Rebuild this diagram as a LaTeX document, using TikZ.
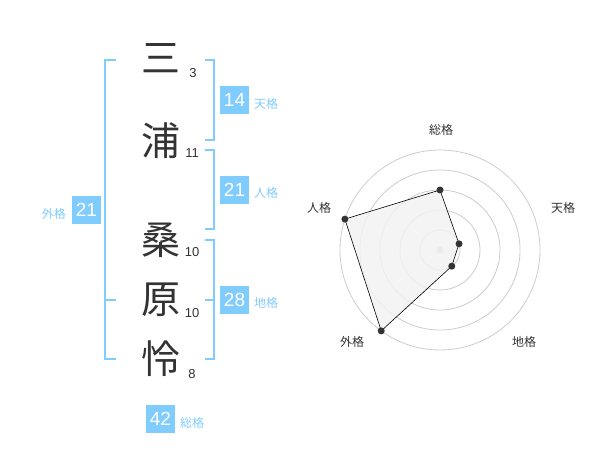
\documentclass[tikz,border=0pt]{standalone}
\usepackage{fontspec}
\usetikzlibrary{calc}
\setmainfont{Liberation Sans}
\newfontfamily\cjk{Noto Sans CJK JP}
\definecolor{kblue}{RGB}{128,204,255}
\definecolor{ktext}{RGB}{51,51,51}
\definecolor{kgrid}{RGB}{204,204,204}
\definecolor{kfill}{RGB}{242,242,242}
\begin{document}
\begin{tikzpicture}[x=1bp,y=-1bp,
  kanji/.style={font=\cjk\fontsize{39bp}{39bp}\selectfont, text=ktext, inner sep=0pt},
  stroke/.style={font=\fontsize{13bp}{13bp}\selectfont, text=ktext, inner sep=0pt},
  valbox/.style={fill=kblue, text=white, minimum width=29bp, minimum height=28bp, inner sep=0pt, font=\fontsize{19bp}{19bp}\selectfont},
  kaku/.style={font=\cjk\fontsize{12bp}{12bp}\selectfont, text=kblue, inner sep=0pt},
  brk/.style={draw=kblue, line width=1.6bp},
  ring/.style={draw=kgrid, line width=0.8bp},
  rlabel/.style={font=\cjk\fontsize{12bp}{12bp}\selectfont, text=ktext, inner sep=0pt},
  pt/.style={fill=ktext, circle, inner sep=0pt, minimum size=7bp}]
\useasboundingbox (0,0) rectangle (600,470);
% kanji
\node[kanji] (k1) at (161,58) {三};
\node[kanji] (k2) at (161,141) {浦};
\node[kanji] (k3) at (161,240) {桑};
\node[kanji] (k4) at (161,300) {原};
\node[kanji] (k5) at (161,359) {怜};
% stroke counts
\node[stroke] (s1) at (193,73) {3};
\node[stroke] (s2) at (192,153) {11};
\node[stroke] (s3) at (192,252) {10};
\node[stroke] (s4) at (192,313) {10};
\node[stroke] (s5) at (192,374) {8};
% brackets
\draw[brk] (116,60) -- (105,60) -- (105,359) -- (116,359);
\draw[brk] (105,300) -- (116,300);
\draw[brk] (205,60) -- (214,60) -- (214,140) -- (205,140);
\draw[brk] (205,150) -- (214,150) -- (214,229) -- (205,229);
\draw[brk] (205,240) -- (214,240) -- (214,359) -- (205,359);
\draw[brk] (205,300) -- (214,300);
% value boxes
\node[valbox] (ten) at (234.5,100) {14};
\node[kaku, anchor=west] (tenl) at (254,104) {天格};
\node[valbox] (jin) at (234.5,190) {21};
\node[kaku, anchor=west] (jinl) at (254,193) {人格};
\node[valbox] (chi) at (234.5,300) {28};
\node[kaku, anchor=west] (chil) at (254,303) {地格};
\node[valbox] (gai) at (86.5,210) {21};
\node[kaku, anchor=east] (gail) at (66,214) {外格};
\node[valbox] (sou) at (160.5,419) {42};
\node[kaku, anchor=west] (soul) at (180,423) {総格};
% radar
\coordinate (c) at (440,250);
\foreach \r in {20,40,60,80,100} \draw[ring] (c) circle[radius=\r];
\fill[kgrid] (c) circle[radius=3.5];
\coordinate (p1) at ($(c)+(-90:60)$);
\coordinate (p2) at ($(c)+(-18:20)$);
\coordinate (p3) at ($(c)+(54:20)$);
\coordinate (p4) at ($(c)+(126:100)$);
\coordinate (p5) at ($(c)+(198:100)$);
\filldraw[fill=kfill, fill opacity=0.85, draw=black, line width=0.6bp] (p1) -- (p2) -- (p3) -- (p4) -- (p5) -- cycle;
\foreach \p in {p1,p2,p3,p4,p5} \node[pt] at (\p) {};
\node[rlabel] (r1) at (441,130) {総格};
\node[rlabel] (r2) at (563,208) {天格};
\node[rlabel] (r3) at (524,342) {地格};
\node[rlabel] (r4) at (352,342) {外格};
\node[rlabel] (r5) at (319,208) {人格};
\end{tikzpicture}
\end{document}
